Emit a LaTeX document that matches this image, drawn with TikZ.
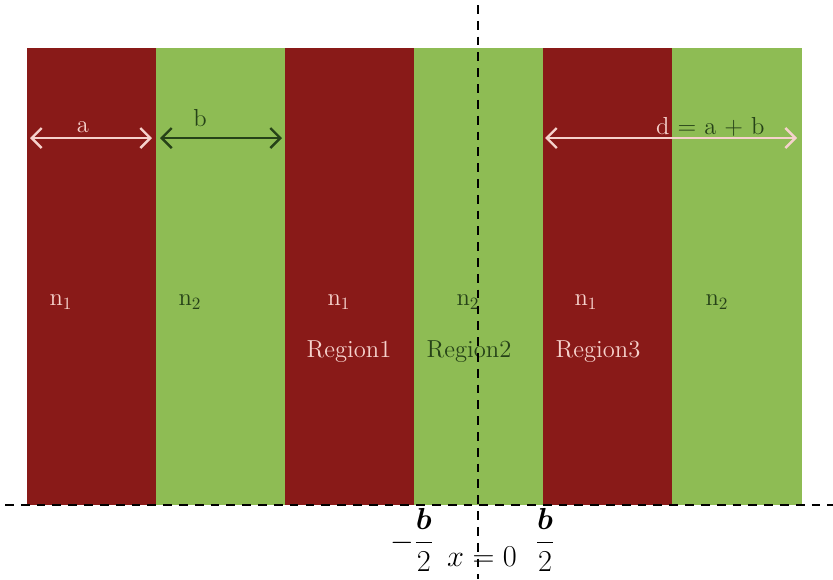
\documentclass[tikz,border=0pt]{standalone}
\usepackage{amsmath}
\usepackage{xcolor}
\definecolor{layerred}{RGB}{137,26,24}
\definecolor{layergreen}{RGB}{142,188,84}
\definecolor{lighttext}{RGB}{246,210,204}
\definecolor{darktext}{RGB}{38,66,24}
\usepackage{tikz}
\usetikzlibrary{positioning, arrows.meta, calc}

\begin{document}
\begin{tikzpicture}[
  x=0.2mm, y=-0.2mm,
  layer/.style={draw=none, minimum width=130*0.2mm, minimum height=457*0.2mm,
               inner sep=0pt, anchor=north west},
  high/.style={fill=layerred},
  low/.style={fill=layergreen},
  onred/.style={text=lighttext, font=\fontsize{14}{16}\selectfont},
  ongreen/.style={text=darktext, font=\fontsize{14}{16}\selectfont},
  span/.style={{Straight Barb[length=2mm]}-{Straight Barb[length=2mm]}, line width=1.4pt},
  axis/.style={dashed, line width=1.2pt, dash pattern=on 5pt off 4pt},
]
\useasboundingbox (0,0) rectangle (833,579);

% Layers
\foreach \i in {1,...,6}{
  \pgfmathsetmacro{\xo}{27+128.83*(\i-1)}
  \ifodd\i
    \node[layer, high] (s\i) at (\xo,48) {};
  \else
    \node[layer, low] (s\i) at (\xo,48) {};
  \fi
}
\node[layer, low, minimum width=128.8*0.2mm] at (671.15,48) {};

% Widths
\coordinate (a0) at (30,138);
\coordinate (a1) at (152,138);
\coordinate (b0) at (160,138);
\coordinate (b1) at (282,138);
\coordinate (d0) at (545,138);
\coordinate (d1) at (797,138);
\draw[span, lighttext] (a0) -- (a1);
\draw[span, darktext] (b0) -- (b1);
\draw[span, lighttext] (d0) -- (d1);
\node[onred] (la) at (83,127) {a};
\node[ongreen] (lb) at (200,118) {b};
\node[ongreen, anchor=west] (ld) at (650,127) {\textcolor{lighttext}{d} = a + b};

% Indices
\node[onred] (n1) at (61,302) {n\textsubscript{1}};
\node[ongreen] (n2) at (190,302) {n\textsubscript{2}};
\node[onred] (n3) at (339,302) {n\textsubscript{1}};
\node[ongreen] (n4) at (468,302) {n\textsubscript{2}};
\node[onred] (n5) at (586,302) {n\textsubscript{1}};
\node[ongreen] (n6) at (717,302) {n\textsubscript{2}};

% Regions
\node[onred] (r1) at (349,352) {Region1};
\node[ongreen] (r2) at (469,352) {Region2};
\node[onred] (r3) at (598,352) {Region3};

% Axes
\coordinate (h0) at (5,505);
\coordinate (h1) at (833,505);
\coordinate (v0) at (478,5);
\coordinate (v1) at (478,579);
\draw[axis] (h0) -- (h1);
\draw[axis] (v0) -- (v1);

% Ticks
\node[font=\LARGE] (mb) at (412,540) {$-\dfrac{\boldsymbol{b}}{2}$};
\node[font=\LARGE] (x0) at (482,557) {$x = 0$};
\node[font=\LARGE] (pb) at (545,540) {$\dfrac{\boldsymbol{b}}{2}$};
\end{tikzpicture}
\end{document}
